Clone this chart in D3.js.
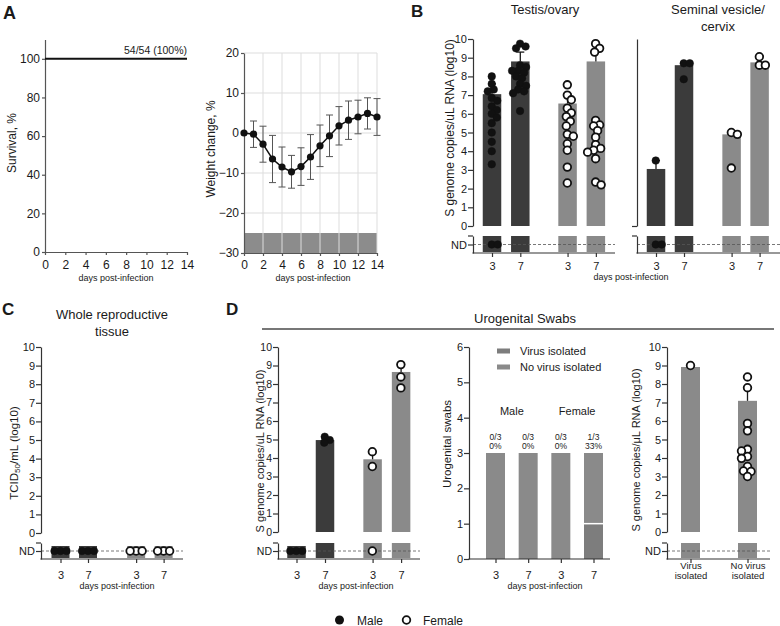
<!DOCTYPE html>
<html>
<head>
<meta charset="utf-8">
<script src="https://cdn.jsdelivr.net/npm/d3@7"></script>
<style>
  body { margin: 0; background: #fff; }
  svg { font-family: "Liberation Sans", Arial, Helvetica, sans-serif; }
</style>
</head>
<body>
<svg id="fig" width="780" height="626"></svg>
<script>
// ---------- data ----------
const survDays = [0, 14];
const survPct = [100, 100];

const weightDays = [0, 1, 2, 3, 4, 5, 6, 7, 8, 9, 10, 11, 12, 13, 14];
const weightMean = [0, -0.3, -2.8, -6.5, -8.5, -9.7, -8.4, -6.0, -3.2, -0.7, 1.8, 3.2, 4.0, 4.9, 4.0];
const weightSD = [0, 3.3, 4.5, 5.9, 5.0, 4.1, 4.7, 5.6, 5.2, 5.2, 4.8, 4.8, 4.2, 3.9, 4.6];

const dayLabels = ['3', '7', '3', '7'];
const groupSex = ['M', 'M', 'F', 'F'];

// B: testis / ovary
const testisMean = [7.05, 8.8, 6.55, 8.8];
const testisErr = [7.6, 9.3, 7.05, 9.35];
const testisPts = [
  [8.0, 7.6, 7.3, 7.2, 6.85, 6.7, 6.4, 6.2, 6.0, 5.8, 5.5, 5.0, 4.5, 4.0, 3.3, 'ND', 'ND'],
  [9.75, 9.6, 9.5, 8.6, 8.5, 8.3, 8.3, 8.2, 8.0, 7.9, 7.6, 7.5, 7.3, 7.2, 7.1, 6.15],
  [7.55, 7.0, 6.75, 6.3, 6.05, 5.85, 5.6, 5.35, 4.9, 4.8, 4.4, 4.05, 3.15, 2.3],
  [9.75, 9.5, 9.3, 5.65, 5.4, 5.35, 5.1, 4.75, 4.35, 4.15, 4.05, 3.95, 3.6, 2.35, 2.2]
];

// B: seminal vesicle / cervix
const seminalMean = [3.05, 8.6, 4.9, 8.75];
const seminalErr = [3.5, 8.75, 5.0, 9.1];
const seminalPts = [
  [3.5, 'ND', 'ND'],
  [8.7, 8.7, 7.85],
  [5.0, 4.9, 3.1],
  [9.05, 8.6, 8.6]
];

// C: whole reproductive tissue (TCID50)
const tissueMean = ['ND', 'ND', 'ND', 'ND'];
const tissueErr = [null, null, null, null];
const tissuePts = [['ND', 'ND', 'ND'], ['ND', 'ND', 'ND'], ['ND', 'ND', 'ND'], ['ND', 'ND', 'ND']];

// D: urogenital swab RNA
const swabMean = ['ND', 4.97, 3.93, 8.65];
const swabErr = [null, 5.1, 4.35, 9.05];
const swabPts = [
  ['ND', 'ND', 'ND'],
  [5.15, 4.97, 4.83],
  [4.34, 3.54, 'ND'],
  [9.05, 8.38, 7.79]
];

// D: virus isolation counts
const swabIsolated = [0, 0, 0, 1];
const swabNotIsolated = [3, 3, 3, 2];
const swabFrac = ['0/3', '0/3', '0/3', '1/3'];
const swabPct = ['0%', '0%', '0%', '33%'];
const swabSexLabels = ['Male', 'Female'];
const isoKeys = ['Virus isolated', 'No virus isolated'];

// D: RNA by isolation outcome
const isoLabels = ['Virus\nisolated', 'No virus\nisolated'];
const isoSex = ['F', 'F'];
const isoMean = [8.92, 7.09];
const isoErr = [null, 7.85];
const isoPts = [
  [9.0],
  [8.38, 7.8, 5.87, 5.47, 4.47, 4.38, 4.08, 3.98, 3.54, 3.3, 3.27, 3.0]
];

// ---------- drawing ----------
const FONT = '"Liberation Sans", Arial, Helvetica, sans-serif';
const DARK = '#3b3b3b', LIGHT = '#8a8a8a', INK = '#1a1a1a', AX = '#333';
const svg = d3.select('#fig');

function styleAxis(sel, size, col) {
  sel.attr('font-family', FONT).attr('font-size', size);
  sel.select('.domain').attr('stroke', col || AX).attr('stroke-width', 1.2);
  sel.selectAll('.tick line').attr('stroke', col || AX).attr('stroke-width', 1.2);
  sel.selectAll('.tick text').attr('fill', INK);
  return sel;
}
function label(x, y, s, size, anchor, weight) {
  return svg.append('text').attr('x', x).attr('y', y)
    .attr('font-size', size).attr('text-anchor', anchor || 'middle')
    .attr('font-weight', weight || 'normal').attr('fill', INK).text(s);
}
function vlabel(x, y, s, size) {
  return svg.append('text').attr('transform', `translate(${x},${y}) rotate(-90)`)
    .attr('text-anchor', 'middle').attr('dominant-baseline', 'middle')
    .attr('font-size', size).attr('fill', INK).text(s);
}

// simple beeswarm: nearest free horizontal offset for each point
function swarm(vals, yOf, r, maxOff) {
  const cands = d3.range(-maxOff, maxOff + 0.001, 0.5).sort((a, b) => Math.abs(a) - Math.abs(b));
  const placed = [];
  vals.map(v => ({ v, y: yOf(v) })).sort((a, b) => a.y - b.y).forEach(p => {
    let best = 0, bestD = -1;
    for (const dx of cands) {
      const dmin = placed.length ? d3.min(placed, q => Math.hypot(q.dx - dx, q.y - p.y)) : Infinity;
      if (dmin >= 2 * r * 0.78) { best = dx; break; }
      if (dmin > bestD) { bestD = dmin; best = dx; }
    }
    p.dx = best;
    placed.push(p);
  });
  return placed;
}

function logPanel(o) {
  const y = d3.scaleLinear().domain([0, 10]).range([o.yZero, o.yTen]);
  const nd = d3.scalePoint().domain(['ND']).range([o.ndTop, o.ndBot]).padding(0.5);
  const yOf = v => v === 'ND' ? nd('ND') : y(v);
  // one slot per group, extra gap where the sex changes
  const slots = [];
  o.sexes.forEach((s, i) => slots.push(i === 0 ? 0 : slots[i - 1] + 1 + (s !== o.sexes[i - 1] ? o.gap : 0)));
  const x = d3.scaleLinear().domain([0, 1]).range([o.c0, o.c0 + o.step]);
  const cx = slots.map(s => x(s));
  const half = o.barW / 2, R = 3.8;
  const fill = i => o.fills ? o.fills[i] : (o.sexes[i] === 'M' ? DARK : LIGHT);
  const g = svg.append('g');

  o.means.forEach((m, i) => {
    if (m === 'ND') {
      g.append('rect').attr('x', cx[i] - half).attr('width', o.barW)
        .attr('y', nd('ND') - 5).attr('height', o.ndBot - nd('ND') + 4).attr('fill', fill(i));
    } else {
      g.append('rect').attr('x', cx[i] - half).attr('width', o.barW)
        .attr('y', y(m)).attr('height', y(0) - y(m)).attr('fill', fill(i));
      g.append('rect').attr('x', cx[i] - half).attr('width', o.barW)
        .attr('y', o.ndTop).attr('height', o.ndBot - o.ndTop - 1).attr('fill', fill(i));
    }
  });

  g.append('line').attr('x1', o.x0).attr('x2', o.x1).attr('y1', nd('ND')).attr('y2', nd('ND'))
    .attr('stroke', '#555').attr('stroke-width', 0.8).attr('stroke-dasharray', '3,2');

  o.errs.forEach((e, i) => {
    if (e == null) return;
    g.append('line').attr('x1', cx[i]).attr('x2', cx[i]).attr('y1', y(o.means[i])).attr('y2', y(e))
      .attr('stroke', INK).attr('stroke-width', 1.3);
    g.append('line').attr('x1', cx[i] - 4).attr('x2', cx[i] + 4).attr('y1', y(e)).attr('y2', y(e))
      .attr('stroke', INK).attr('stroke-width', 1.3);
  });

  o.points.forEach((pts, i) => {
    const female = o.sexes[i] === 'F';
    g.append('g').selectAll('circle').data(swarm(pts, yOf, R, half - 1)).join('circle')
      .attr('cx', p => cx[i] + p.dx).attr('cy', p => p.y).attr('r', R)
      .attr('fill', female ? '#fff' : '#111').attr('stroke', '#111').attr('stroke-width', female ? 1.8 : 0.5);
  });

  // split y axis
  const up = g.append('g').attr('transform', `translate(${o.x0},0)`)
    .call(d3.axisLeft(y).tickValues(o.ticks ? d3.range(0, 11) : [0])
      .tickFormat(o.ticks ? d3.format('d') : () => '').tickSize(5).tickPadding(1).tickSizeOuter(0));
  styleAxis(up, o.tickFont);
  const lo = g.append('g').attr('transform', `translate(${o.x0},0)`)
    .call(d3.axisLeft(nd).tickSize(o.ticks ? 5 : 0).tickPadding(1).tickSizeOuter(0)
      .tickFormat(o.ticks ? d => d : () => ''));
  styleAxis(lo, o.tickFont);
  g.append('line').attr('x1', o.x0 - 5).attr('x2', o.x0).attr('y1', o.ndTop).attr('y2', o.ndTop)
    .attr('stroke', AX).attr('stroke-width', 1.2);

  // x axis
  const xa = d3.scaleOrdinal().domain(d3.range(cx.length)).range(cx);
  const bottom = g.append('g').attr('transform', `translate(0,${o.ndBot})`)
    .call(d3.axisBottom(xa).tickSize(4).tickPadding(o.pad).tickFormat(i => o.labels[i]));
  bottom.select('.domain').remove();
  styleAxis(bottom, o.labelFont || 11);
  bottom.selectAll('.tick text').each(function (d) {
    const lines = o.labels[d].split('\n');
    if (lines.length < 2) return;
    const t = d3.select(this).text(null);
    lines.forEach((l, k) => t.append('tspan').attr('x', 0).attr('dy', k === 0 ? 0 : '1.1em').text(l));
  });
  g.append('line').attr('x1', o.x0 - 0.6).attr('x2', o.x1).attr('y1', o.ndBot).attr('y2', o.ndBot)
    .attr('stroke', AX).attr('stroke-width', 1.2);
}

// ----- A: survival -----
{
  const x = d3.scaleLinear().domain([0, 14]).range([45, 187]);
  const y = d3.scaleLinear().domain([0, 110]).range([252, 39.5]);
  styleAxis(svg.append('g').attr('transform', 'translate(0,252)')
    .call(d3.axisBottom(x).tickValues(d3.range(0, 15, 2)).tickSize(3).tickPadding(5).tickSizeOuter(0)), 12, '#555');
  styleAxis(svg.append('g').attr('transform', 'translate(45,0)')
    .call(d3.axisLeft(y).tickValues(d3.range(0, 101, 20)).tickSize(3).tickPadding(2).tickSizeOuter(0)), 12, '#555');
  svg.append('path').datum(survDays.map((d, i) => [d, survPct[i]]))
    .attr('d', d3.line().x(d => x(d[0])).y(d => y(d[1])))
    .attr('fill', 'none').attr('stroke', '#111').attr('stroke-width', 2);
  label(187, 54, '54/54 (100%)', 10.5, 'end');
  vlabel(13, 143, 'Survival, %', 12);
  label(116, 281, 'days post-infection', 9);
}

// ----- A: weight change -----
{
  const x = d3.scaleLinear().domain([0, 14]).range([244, 377]);
  const y = d3.scaleLinear().domain([-30, 20]).range([253, 53]);
  svg.append('rect').attr('x', x(0)).attr('width', x(14) - x(0))
    .attr('y', y(-25)).attr('height', y(-30) - y(-25)).attr('fill', '#8c8c8c');
  svg.append('g').selectAll('line').data(d3.range(2, 15, 2)).join('line')
    .attr('x1', d => x(d)).attr('x2', d => x(d)).attr('y1', y(-30)).attr('y2', y(20))
    .attr('stroke', '#ddd').attr('stroke-width', 1);
  svg.append('g').selectAll('line').data(d3.range(-20, 21, 10)).join('line')
    .attr('x1', x(0)).attr('x2', x(14)).attr('y1', d => y(d)).attr('y2', d => y(d))
    .attr('stroke', '#ddd').attr('stroke-width', 1);
  styleAxis(svg.append('g').attr('transform', 'translate(0,253)')
    .call(d3.axisBottom(x).tickValues(d3.range(0, 15, 2)).tickSize(3).tickPadding(4).tickSizeOuter(0)), 12, '#555');
  styleAxis(svg.append('g').attr('transform', 'translate(244,0)')
    .call(d3.axisLeft(y).tickValues(d3.range(-30, 21, 10)).tickSize(3).tickPadding(2).tickSizeOuter(0)), 12, '#555');
  const eb = svg.append('g').attr('stroke', '#555').attr('stroke-width', 1);
  weightDays.forEach((d, i) => {
    if (!weightSD[i]) return;
    const lo = y(weightMean[i] - weightSD[i]), hi = y(weightMean[i] + weightSD[i]);
    eb.append('line').attr('x1', x(d)).attr('x2', x(d)).attr('y1', lo).attr('y2', hi);
    eb.append('line').attr('x1', x(d) - 3.5).attr('x2', x(d) + 3.5).attr('y1', lo).attr('y2', lo);
    eb.append('line').attr('x1', x(d) - 3.5).attr('x2', x(d) + 3.5).attr('y1', hi).attr('y2', hi);
  });
  svg.append('path').datum(weightDays.map((d, i) => [d, weightMean[i]]))
    .attr('d', d3.line().x(d => x(d[0])).y(d => y(d[1])))
    .attr('fill', 'none').attr('stroke', '#111').attr('stroke-width', 1.5);
  svg.append('g').selectAll('circle').data(weightDays).join('circle')
    .attr('cx', d => x(d)).attr('cy', (d, i) => y(weightMean[i])).attr('r', 3.6).attr('fill', '#111');
  vlabel(212, 149, 'Weight change, %', 12);
  label(313, 281, 'days post-infection', 9);
}

// ----- B -----
logPanel({ x0: 473, x1: 615, c0: 492, step: 28.3, gap: 0.67, barW: 18.5,
  yTen: 39, yZero: 226, ndTop: 236, ndBot: 253, pad: 5, ticks: true, tickFont: 11,
  sexes: groupSex, labels: dayLabels, means: testisMean, errs: testisErr, points: testisPts });
logPanel({ x0: 637, x1: 780, c0: 656, step: 28, gap: 0.7, barW: 18.5,
  yTen: 39, yZero: 226, ndTop: 236, ndBot: 253, pad: 5, ticks: false, tickFont: 11,
  sexes: groupSex, labels: dayLabels, means: seminalMean, errs: seminalErr, points: seminalPts });
vlabel(451, 128, 'S genome copies/uL RNA (log10)', 12);
label(545, 14, 'Testis/ovary', 13);
label(718, 14, 'Seminal vesicle/', 13);
label(718, 31, 'cervix', 13);
label(631, 280, 'days post-infection', 9);

// ----- C -----
logPanel({ x0: 41, x1: 183, c0: 60.5, step: 27.5, gap: 0.75, barW: 18,
  yTen: 347, yZero: 533, ndTop: 543, ndBot: 559, pad: 8, ticks: true, tickFont: 11,
  sexes: groupSex, labels: dayLabels, means: tissueMean, errs: tissueErr, points: tissuePts });
{
  const t = svg.append('text').attr('transform', 'translate(15,453) rotate(-90)')
    .attr('text-anchor', 'middle').attr('dominant-baseline', 'middle').attr('font-size', 11.5).attr('fill', INK);
  t.append('tspan').text('TCID');
  t.append('tspan').attr('dy', 3).attr('font-size', 8).text('50');
  t.append('tspan').attr('dy', -3).text('/mL (log10)');
}
label(112, 319, 'Whole reproductive', 13);
label(112, 336, 'tissue', 13);
label(117, 589, 'days post-infection', 9);

// ----- D -----
svg.append('line').attr('x1', 262).attr('x2', 774).attr('y1', 329).attr('y2', 329)
  .attr('stroke', '#777').attr('stroke-width', 2);
label(525, 323, 'Urogenital Swabs', 13);

logPanel({ x0: 278, x1: 420, c0: 296.5, step: 28.5, gap: 0.67, barW: 18.5,
  yTen: 347, yZero: 532, ndTop: 543, ndBot: 559, pad: 8, ticks: true, tickFont: 10.5,
  sexes: groupSex, labels: dayLabels, means: swabMean, errs: swabErr, points: swabPts });
vlabel(261, 451, 'S genome copies/uL RNA (log10)', 11);
label(356, 589, 'days post-infection', 9);

{
  const y = d3.scaleLinear().domain([0, 6]).range([559, 347]);
  const x = d3.scalePoint().domain(d3.range(swabIsolated.length)).range([495.5, 593.5]);
  const w = 19;
  const fills = ['#7d7d7d', '#8a8a8a'];
  const rows = swabIsolated.map((v, i) => ({ [isoKeys[0]]: v, [isoKeys[1]]: swabNotIsolated[i] }));
  const layers = d3.stack().keys(isoKeys)(rows);
  layers.forEach((layer, k) => {
    svg.append('g').selectAll('rect').data(layer).join('rect')
      .attr('x', (d, i) => x(i) - w / 2).attr('width', w)
      .attr('y', d => y(d[1])).attr('height', d => y(d[0]) - y(d[1]))
      .attr('fill', fills[k]);
  });
  // white divider between stacked segments
  layers[1].forEach((d, i) => {
    if (d[0] > 0) svg.append('line').attr('x1', x(i) - w / 2).attr('x2', x(i) + w / 2)
      .attr('y1', y(d[0])).attr('y2', y(d[0])).attr('stroke', '#fff').attr('stroke-width', 1.5);
  });
  styleAxis(svg.append('g').attr('transform', 'translate(469,0)')
    .call(d3.axisLeft(y).tickValues(d3.range(0, 7)).tickFormat(d3.format('d'))
      .tickSize(5).tickPadding(1).tickSizeOuter(0)), 11);
  const bottom = svg.append('g').attr('transform', 'translate(0,559)')
    .call(d3.axisBottom(x).tickSize(4).tickPadding(8).tickFormat(i => dayLabels[i]));
  bottom.select('.domain').remove();
  styleAxis(bottom, 11);
  svg.append('line').attr('x1', 468.4).attr('x2', 610).attr('y1', 559).attr('y2', 559)
    .attr('stroke', AX).attr('stroke-width', 1.2);
  swabFrac.forEach((f, i) => {
    label(x(i), 440, f, 8.5);
    label(x(i), 449, swabPct[i], 8.5);
  });
  label((x(0) + x(1)) / 2, 415, swabSexLabels[0], 11);
  label((x(2) + x(3)) / 2, 415, swabSexLabels[1], 11);
  isoKeys.forEach((k, j) => {
    svg.append('rect').attr('x', 497).attr('y', 348.5 + j * 16).attr('width', 13).attr('height', 5).attr('fill', fills[j]);
    label(520, 355 + j * 16, k, 11, 'start');
  });
  vlabel(448, 444, 'Urogenital swabs', 11.5);
  label(545, 589, 'days post-infection', 9);
}

logPanel({ x0: 667, x1: 770, c0: 690.5, step: 57, gap: 0, barW: 19,
  yTen: 347, yZero: 532, ndTop: 543, ndBot: 559, pad: 6, ticks: true, tickFont: 11, labelFont: 9.5,
  fills: [LIGHT, LIGHT], sexes: isoSex, labels: isoLabels, means: isoMean, errs: isoErr, points: isoPts });
vlabel(637, 450, 'S genome copies/μL RNA (log10)', 11);

// ----- panel letters -----
label(3, 19, 'A', 18, 'start', 'bold');
label(411, 17, 'B', 17, 'start', 'bold');
label(2, 315, 'C', 17, 'start', 'bold');
label(226, 315, 'D', 17, 'start', 'bold');

// ----- sex legend -----
svg.append('circle').attr('cx', 339.5).attr('cy', 620).attr('r', 4.5).attr('fill', '#111');
label(357, 624.5, 'Male', 12, 'start');
svg.append('circle').attr('cx', 406.5).attr('cy', 620).attr('r', 3.8).attr('fill', '#fff')
  .attr('stroke', '#111').attr('stroke-width', 1.8);
label(423, 624.5, 'Female', 12, 'start');
</script>
</body>
</html>
